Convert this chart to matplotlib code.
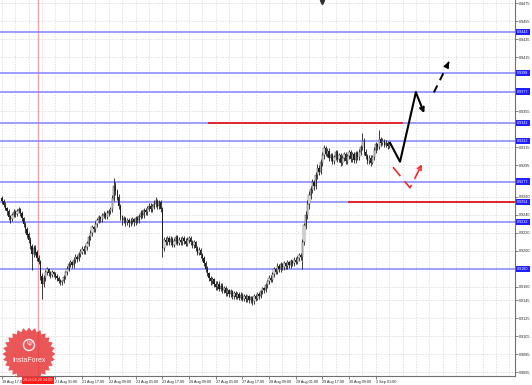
import numpy as np
import matplotlib
matplotlib.use("Agg")
import matplotlib.pyplot as plt
from matplotlib.patches import Polygon, Circle

plt.rcParams["font.family"] = ["Liberation Sans", "DejaVu Sans"]

# H1 bars, index 0 = 19 Aug 17:00
closes = [
    0.9255, 0.9251, 0.9247, 0.9244, 0.9238, 0.9235, 0.9240, 0.9243, 0.9241, 0.9244, 0.9246, 0.9242, 0.9236, 0.9230, 0.9224, 0.9218,
    0.9212, 0.9205, 0.9196, 0.9203, 0.9198, 0.9192, 0.9188, 0.9172, 0.9163, 0.9170, 0.9176, 0.9179, 0.9175, 0.9173, 0.9176, 0.9174,
    0.9172, 0.9170, 0.9167, 0.9165, 0.9166, 0.9171, 0.9176, 0.9180, 0.9185, 0.9187, 0.9184, 0.9190, 0.9193, 0.9191, 0.9196, 0.9199,
    0.9202, 0.9200, 0.9204, 0.9208, 0.9215, 0.9220, 0.9226, 0.9224, 0.9230, 0.9234, 0.9237, 0.9235, 0.9239, 0.9241, 0.9238, 0.9242,
    0.9244, 0.9246, 0.9258, 0.9272, 0.9266, 0.9260, 0.9250, 0.9238, 0.9234, 0.9236, 0.9232, 0.9234, 0.9231, 0.9233, 0.9235, 0.9232,
    0.9236, 0.9234, 0.9238, 0.9242, 0.9240, 0.9245, 0.9243, 0.9247, 0.9250, 0.9246, 0.9249, 0.9252, 0.9255, 0.9250, 0.9254, 0.9247,
    0.9203, 0.9212, 0.9210, 0.9214, 0.9210, 0.9213, 0.9207, 0.9211, 0.9215, 0.9209, 0.9212, 0.9210, 0.9214, 0.9211, 0.9208, 0.9212,
    0.9214, 0.9210, 0.9206, 0.9209, 0.9203, 0.9198, 0.9201, 0.9195, 0.9192, 0.9186, 0.9180, 0.9175, 0.9170, 0.9166, 0.9168, 0.9163,
    0.9160, 0.9163, 0.9158, 0.9161, 0.9156, 0.9158, 0.9153, 0.9156, 0.9152, 0.9155, 0.9150, 0.9153, 0.9149, 0.9152, 0.9148, 0.9151,
    0.9147, 0.9150, 0.9146, 0.9149, 0.9145, 0.9148, 0.9144, 0.9150, 0.9147, 0.9152, 0.9150, 0.9155, 0.9158, 0.9156, 0.9162, 0.9166,
    0.9170, 0.9168, 0.9174, 0.9179, 0.9177, 0.9183, 0.9180, 0.9185, 0.9182, 0.9186, 0.9183, 0.9187, 0.9184, 0.9188, 0.9186, 0.9190,
    0.9188, 0.9192, 0.9195, 0.9193, 0.9210, 0.9228, 0.9240, 0.9252, 0.9262, 0.9268, 0.9276, 0.9272, 0.9284, 0.9292, 0.9288, 0.9298,
    0.9306, 0.9314, 0.9308, 0.9311, 0.9303, 0.9306, 0.9300, 0.9304, 0.9309, 0.9302, 0.9306, 0.9298, 0.9303, 0.9307, 0.9300, 0.9305,
    0.9309, 0.9302, 0.9307, 0.9301, 0.9308, 0.9304, 0.9310, 0.9315, 0.9322, 0.9310, 0.9305, 0.9300, 0.9303, 0.9298, 0.9304, 0.9312,
    0.9318, 0.9315, 0.9324, 0.9320, 0.9322, 0.9318, 0.9320, 0.9316, 0.9318,
]
highs = [
    0.9261, 0.9258, 0.9254, 0.9249, 0.9246, 0.9240, 0.9242, 0.9246, 0.9245, 0.9247, 0.9249, 0.9248, 0.9244, 0.9238, 0.9232, 0.9226,
    0.9221, 0.9215, 0.9208, 0.9206, 0.9206, 0.9201, 0.9195, 0.9190, 0.9175, 0.9173, 0.9179, 0.9182, 0.9181, 0.9178, 0.9179, 0.9178,
    0.9176, 0.9174, 0.9172, 0.9169, 0.9168, 0.9173, 0.9178, 0.9183, 0.9188, 0.9190, 0.9189, 0.9193, 0.9196, 0.9195, 0.9199, 0.9202,
    0.9205, 0.9205, 0.9207, 0.9211, 0.9218, 0.9223, 0.9229, 0.9228, 0.9233, 0.9237, 0.9240, 0.9239, 0.9242, 0.9244, 0.9243, 0.9245,
    0.9247, 0.9249, 0.9262, 0.9281, 0.9276, 0.9269, 0.9263, 0.9252, 0.9240, 0.9239, 0.9238, 0.9237, 0.9236, 0.9236, 0.9238, 0.9237,
    0.9239, 0.9239, 0.9241, 0.9245, 0.9245, 0.9248, 0.9248, 0.9250, 0.9253, 0.9253, 0.9252, 0.9256, 0.9260, 0.9258, 0.9257, 0.9256,
    0.9249, 0.9215, 0.9215, 0.9217, 0.9217, 0.9216, 0.9215, 0.9214, 0.9218, 0.9218, 0.9215, 0.9215, 0.9217, 0.9216, 0.9214, 0.9215,
    0.9217, 0.9217, 0.9212, 0.9212, 0.9211, 0.9205, 0.9204, 0.9203, 0.9198, 0.9194, 0.9189, 0.9183, 0.9177, 0.9172, 0.9171, 0.9170,
    0.9166, 0.9166, 0.9166, 0.9164, 0.9164, 0.9161, 0.9161, 0.9159, 0.9158, 0.9158, 0.9157, 0.9155, 0.9155, 0.9154, 0.9154, 0.9154,
    0.9153, 0.9152, 0.9152, 0.9151, 0.9151, 0.9150, 0.9150, 0.9152, 0.9152, 0.9154, 0.9154, 0.9157, 0.9160, 0.9160, 0.9164, 0.9168,
    0.9173, 0.9173, 0.9176, 0.9182, 0.9181, 0.9186, 0.9185, 0.9188, 0.9187, 0.9189, 0.9188, 0.9190, 0.9189, 0.9191, 0.9190, 0.9193,
    0.9193, 0.9194, 0.9198, 0.9198, 0.9213, 0.9231, 0.9244, 0.9256, 0.9266, 0.9272, 0.9280, 0.9279, 0.9288, 0.9296, 0.9295, 0.9302,
    0.9310, 0.9318, 0.9316, 0.9314, 0.9314, 0.9309, 0.9309, 0.9307, 0.9312, 0.9312, 0.9309, 0.9309, 0.9306, 0.9310, 0.9310, 0.9308,
    0.9312, 0.9312, 0.9310, 0.9310, 0.9311, 0.9311, 0.9313, 0.9318, 0.9331, 0.9325, 0.9313, 0.9308, 0.9306, 0.9306, 0.9307, 0.9315,
    0.9321, 0.9320, 0.9334, 0.9327, 0.9325, 0.9324, 0.9323, 0.9322, 0.9320,
]
lows = [
    0.9252, 0.9249, 0.9245, 0.9240, 0.9234, 0.9231, 0.9233, 0.9238, 0.9238, 0.9239, 0.9242, 0.9239, 0.9233, 0.9227, 0.9220, 0.9214,
    0.9209, 0.9202, 0.9179, 0.9193, 0.9195, 0.9189, 0.9185, 0.9168, 0.9147, 0.9160, 0.9167, 0.9173, 0.9172, 0.9170, 0.9171, 0.9171,
    0.9169, 0.9167, 0.9164, 0.9162, 0.9162, 0.9164, 0.9169, 0.9173, 0.9178, 0.9182, 0.9181, 0.9181, 0.9187, 0.9188, 0.9189, 0.9193,
    0.9196, 0.9197, 0.9197, 0.9201, 0.9205, 0.9212, 0.9217, 0.9221, 0.9221, 0.9227, 0.9231, 0.9232, 0.9232, 0.9236, 0.9235, 0.9235,
    0.9239, 0.9241, 0.9243, 0.9255, 0.9262, 0.9256, 0.9246, 0.9234, 0.9229, 0.9231, 0.9228, 0.9229, 0.9227, 0.9228, 0.9230, 0.9228,
    0.9229, 0.9231, 0.9231, 0.9235, 0.9237, 0.9237, 0.9240, 0.9240, 0.9244, 0.9243, 0.9243, 0.9246, 0.9249, 0.9247, 0.9247, 0.9243,
    0.9193, 0.9200, 0.9206, 0.9207, 0.9206, 0.9207, 0.9204, 0.9204, 0.9208, 0.9206, 0.9206, 0.9207, 0.9207, 0.9208, 0.9205, 0.9205,
    0.9209, 0.9207, 0.9203, 0.9203, 0.9200, 0.9195, 0.9195, 0.9192, 0.9189, 0.9183, 0.9177, 0.9172, 0.9166, 0.9162, 0.9163, 0.9160,
    0.9157, 0.9157, 0.9155, 0.9155, 0.9153, 0.9153, 0.9150, 0.9150, 0.9149, 0.9149, 0.9147, 0.9147, 0.9146, 0.9146, 0.9145, 0.9145,
    0.9144, 0.9144, 0.9143, 0.9143, 0.9142, 0.9142, 0.9140, 0.9141, 0.9144, 0.9145, 0.9147, 0.9148, 0.9152, 0.9153, 0.9154, 0.9159,
    0.9163, 0.9165, 0.9165, 0.9171, 0.9174, 0.9174, 0.9177, 0.9177, 0.9179, 0.9179, 0.9180, 0.9180, 0.9181, 0.9181, 0.9183, 0.9183,
    0.9185, 0.9185, 0.9189, 0.9190, 0.9180, 0.9206, 0.9224, 0.9235, 0.9247, 0.9258, 0.9264, 0.9268, 0.9269, 0.9280, 0.9284, 0.9285,
    0.9294, 0.9302, 0.9305, 0.9304, 0.9300, 0.9300, 0.9296, 0.9297, 0.9301, 0.9299, 0.9299, 0.9294, 0.9295, 0.9300, 0.9297, 0.9297,
    0.9302, 0.9299, 0.9299, 0.9298, 0.9298, 0.9301, 0.9301, 0.9307, 0.9312, 0.9307, 0.9302, 0.9296, 0.9297, 0.9294, 0.9296, 0.9301,
    0.9309, 0.9312, 0.9313, 0.9317, 0.9318, 0.9315, 0.9315, 0.9313, 0.9314,
]
first_open = 0.9258

time_labels = ["19 Aug 17:00", "20 Aug 09:00", "21 Aug 01:00", "21 Aug 17:00", "22 Aug 09:00",
               "23 Aug 01:00", "23 Aug 17:00", "26 Aug 09:00", "27 Aug 01:00", "27 Aug 17:00",
               "28 Aug 09:00", "29 Aug 01:00", "29 Aug 17:00", "30 Aug 09:00", "2 Sep 01:00"]
time_label_bars = [0, 16, 32, 48, 64, 80, 96, 112, 128, 144, 160, 176, 192, 208, 224]
grid_bars = list(range(0, 312, 8))

price_ticks = [0.9475, 0.9455, 0.9435, 0.9415, 0.9355, 0.9315, 0.9295, 0.9260, 0.9240,
               0.9220, 0.9200, 0.9160, 0.9145, 0.9125, 0.9105, 0.9085, 0.9065]

blue_levels = [0.9443, 0.9398, 0.9377, 0.9342, 0.9322, 0.9277, 0.9254, 0.9232, 0.9180]
# red levels: (price, start bar, end bar)
red_levels = [(0.9342, 123.4, 240.3), (0.9254, 207.3, 320)]
crosshair_bar = 21.6
crosshair_label = "2019.08.20 14:00"

# forecast drawings (bar, price)
black_path_x = [232.5, 238.5, 248.0, 253.0]
black_path_y = [0.9320, 0.9299, 0.9376, 0.9353]
black_dash_x = [258.8, 267.8]
black_dash_y = [0.9376, 0.9410]
red_path_x = [234.3, 244.5, 251.6]
red_path_y = [0.9293, 0.9270, 0.9296]

W, H = 532, 385
FS = 2.7
fig = plt.figure(figsize=(W / 100, H / 100), dpi=100)
ax = fig.add_axes([0, 9 / H, 515 / W, 376 / H])

c = np.array(closes)
hi = np.array(highs)
lo = np.array(lows)
o = np.array([first_open] + closes[:-1])
x = np.arange(len(c))

ax.set_xlim(-1.2, 307.4)
ax.set_ylim(0.90609, 0.94787)

# grid
for gb in grid_bars:
    ax.axvline(gb, color="#d4d4d4", lw=0.5, ls=(0, (2, 2)), zorder=0)
for pt in price_ticks:
    ax.axhline(pt, color="#d4d4d4", lw=0.5, ls=(0, (2, 2)), zorder=0)

ax.axvline(crosshair_bar, color="#ff9c9c", lw=1.0, zorder=1)

for lv in blue_levels:
    ax.axhline(lv, color="#8282ff", lw=1.1, zorder=2)
for lv, x0, x1 in red_levels:
    ax.plot([x0, x1], [lv, lv], color="#e3262b", lw=1.4, zorder=3, solid_capstyle="butt")

# candles
ax.vlines(x, lo, hi, color="#1e1e1e", lw=0.6, zorder=4)
bull = c >= o
ax.bar(x[bull], (c - o)[bull] + 0.00003, bottom=o[bull], width=0.75,
       color="white", edgecolor="#1e1e1e", lw=0.3, zorder=5)
ax.bar(x[~bull], (o - c)[~bull] + 0.00003, bottom=c[~bull], width=0.75,
       color="#1e1e1e", lw=0, zorder=5)

# forecast arrows
ax.plot(black_path_x[:-1], black_path_y[:-1], color="black", lw=1.5, zorder=6)
ax.annotate("", xy=(black_path_x[-1], black_path_y[-1]), xytext=(black_path_x[-2], black_path_y[-2]),
            arrowprops=dict(arrowstyle="->", color="black", lw=1.5, shrinkA=0, shrinkB=0,
                            mutation_scale=7), zorder=6)
ax.plot(black_dash_x, black_dash_y, color="black", lw=1.4, ls=(0, (4, 3)), zorder=6)
ax.annotate("", xy=(black_dash_x[-1], black_dash_y[-1]),
            xytext=(black_dash_x[-1] - 1.0, black_dash_y[-1] - 0.00038),
            arrowprops=dict(arrowstyle="->", color="black", lw=1.4, shrinkA=0, shrinkB=0,
                            mutation_scale=7), zorder=6)
ax.plot(red_path_x, red_path_y, color="#ef2b2b", lw=1.2, ls=(0, (7, 4)), zorder=6)
ax.annotate("", xy=(red_path_x[-1], red_path_y[-1]),
            xytext=(red_path_x[-1] - 1.0, red_path_y[-1] - 0.00036),
            arrowprops=dict(arrowstyle="->", color="#ef2b2b", lw=1.2, shrinkA=0, shrinkB=0,
                            mutation_scale=7), zorder=6)

# axes styling
for s in ["left", "top"]:
    ax.spines[s].set_visible(False)
for s in ["right", "bottom"]:
    ax.spines[s].set_color("#707070")
    ax.spines[s].set_linewidth(0.8)
ax.yaxis.tick_right()
ax.set_yticks(price_ticks, [f"{p:.4f}" for p in price_ticks])
ax.set_xticks(time_label_bars, time_labels)
ax.tick_params(axis="y", labelsize=FS, length=2, width=0.4, pad=1, colors="#222222")
ax.tick_params(axis="x", labelsize=FS, length=2, width=0.4, pad=1.2, colors="#222222")
for lab, tb in zip(ax.get_xticklabels(), time_label_bars):
    lab.set_horizontalalignment("left")
    # the crosshair time box hides the label underneath it, as on the terminal
    if abs(tb - crosshair_bar) < 10:
        lab.set_visible(False)

# level price boxes on the price scale
for lv in blue_levels:
    ax.text(1.004, lv, f"{lv:.4f}", transform=ax.get_yaxis_transform(), fontsize=FS,
            color="white", va="center", ha="left", zorder=10, clip_on=False,
            bbox=dict(boxstyle="square,pad=0.3", fc="#1f1fff", ec="none"))

ax.text(crosshair_bar, -0.006, crosshair_label, transform=ax.get_xaxis_transform(),
        fontsize=FS, color="white", ha="center", va="top", zorder=10, clip_on=False,
        bbox=dict(boxstyle="square,pad=0.4", fc="#ff1a1a", ec="none"))

# InstaForex badge overlay in pixel coords
ov = fig.add_axes([0, 0, 1, 1], zorder=20)
ov.set_xlim(0, W)
ov.set_ylim(H, 0)
ov.axis("off")
n = 28
ang = np.linspace(0, 2 * np.pi, 2 * n, endpoint=False)
rad = np.where(np.arange(2 * n) % 2 == 0, 26.5, 23.0)
cx, cy = 29, 354
ov.add_patch(Polygon(np.column_stack([cx + rad * np.cos(ang), cy + rad * np.sin(ang)]),
                     closed=True, fc="#e8383b", ec="none", alpha=0.85))
ov.add_patch(Circle((cx, cy - 9), 5.5, fc="none", ec="white", lw=1.0, alpha=0.9))
ov.text(cx, cy - 9, "\u03a8", color="white", fontsize=5, ha="center", va="center")
ov.text(cx, cy + 6, "InstaForex", color="white", fontsize=5, ha="center", va="center")
ov.plot([322], [1.5], marker="v", color="#303030", ms=3)

fig.savefig("out.png", dpi=100)
